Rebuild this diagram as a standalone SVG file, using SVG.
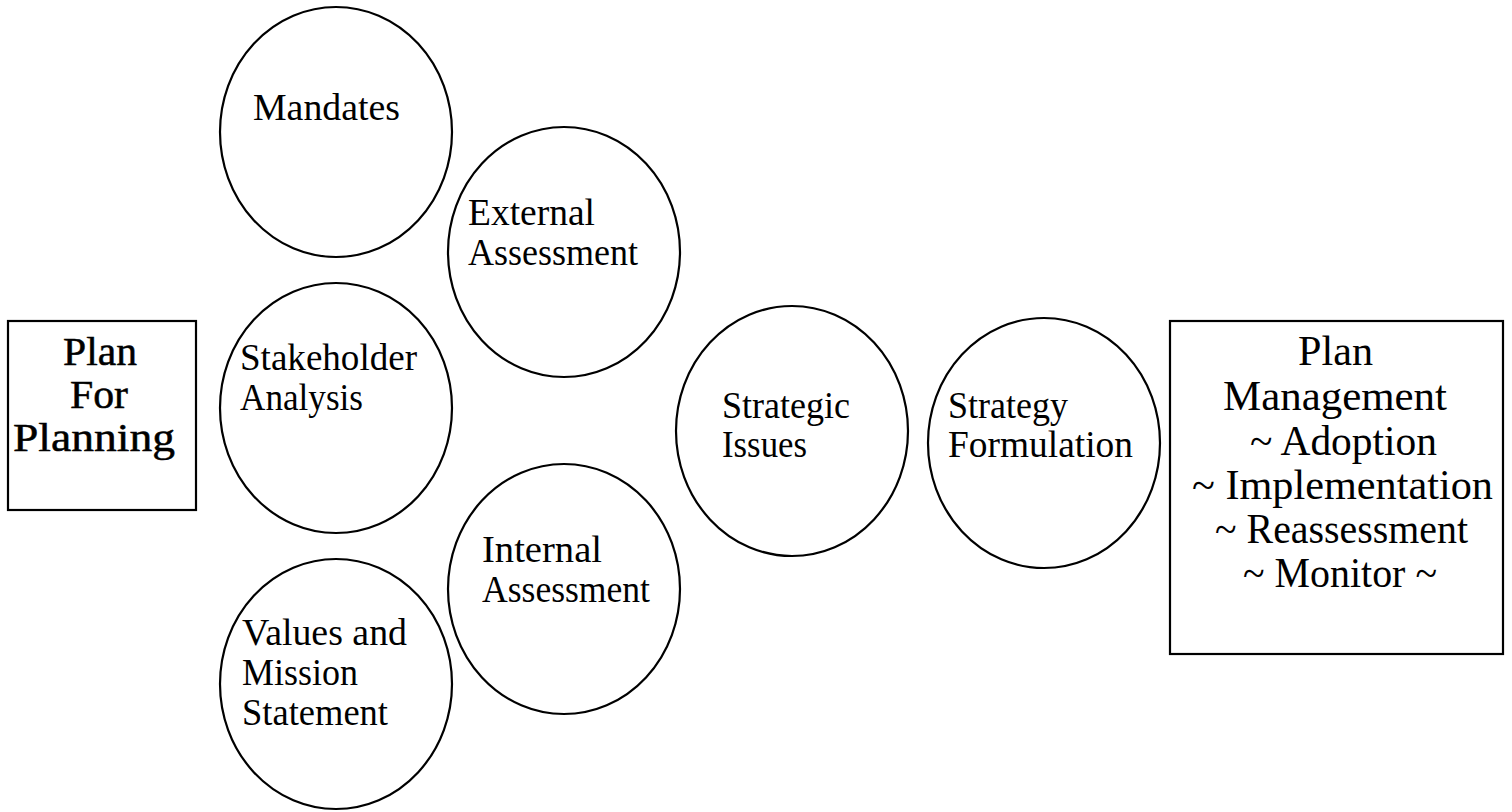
<svg xmlns="http://www.w3.org/2000/svg" width="1512" height="812" viewBox="0 0 1512 812">
<style>
.shape{fill:#fff;stroke:#000;stroke-width:2.2}
.t{font-family:"Liberation Serif",serif;font-size:37px;fill:#000}
.l{font-family:"Liberation Serif",serif;font-size:40px;fill:#000;stroke:#000;stroke-width:0.5}
.r{font-family:"Liberation Serif",serif;font-size:42px;fill:#000}
</style>
<rect width="1512" height="812" fill="#fff"/>
<g id="connectors"></g>
<g id="plan-for-planning">
<rect class="shape" x="8" y="321" width="188" height="189"/>
<text class="l" x="63" y="365" textLength="74" lengthAdjust="spacingAndGlyphs">Plan</text>
<text class="l" x="70" y="408" textLength="58" lengthAdjust="spacingAndGlyphs">For</text>
<text class="l" x="13" y="451" textLength="162" lengthAdjust="spacingAndGlyphs">Planning</text>
</g>
<g id="mandates">
<ellipse class="shape" cx="336" cy="132" rx="116" ry="125"/>
<text class="t" x="253" y="120" textLength="147" lengthAdjust="spacingAndGlyphs">Mandates</text>
</g>
<g id="stakeholder">
<ellipse class="shape" cx="336" cy="408" rx="116" ry="125"/>
<text class="t" x="240" y="370" textLength="177" lengthAdjust="spacingAndGlyphs">Stakeholder</text>
<text class="t" x="240" y="410" textLength="123" lengthAdjust="spacingAndGlyphs">Analysis</text>
</g>
<g id="values">
<ellipse class="shape" cx="336" cy="684" rx="116" ry="125"/>
<text class="t" x="242" y="645" textLength="165" lengthAdjust="spacingAndGlyphs">Values and</text>
<text class="t" x="242" y="685" textLength="116" lengthAdjust="spacingAndGlyphs">Mission</text>
<text class="t" x="242" y="725" textLength="146" lengthAdjust="spacingAndGlyphs">Statement</text>
</g>
<g id="external">
<ellipse class="shape" cx="564" cy="252" rx="116" ry="125"/>
<text class="t" x="468" y="225" textLength="127" lengthAdjust="spacingAndGlyphs">External</text>
<text class="t" x="468" y="265" textLength="170" lengthAdjust="spacingAndGlyphs">Assessment</text>
</g>
<g id="internal">
<ellipse class="shape" cx="564" cy="589" rx="116" ry="125"/>
<text class="t" x="482" y="562" textLength="120" lengthAdjust="spacingAndGlyphs">Internal</text>
<text class="t" x="482" y="602" textLength="168" lengthAdjust="spacingAndGlyphs">Assessment</text>
</g>
<g id="strategic-issues">
<ellipse class="shape" cx="792" cy="431" rx="116" ry="125"/>
<text class="t" x="722" y="418" textLength="128" lengthAdjust="spacingAndGlyphs">Strategic</text>
<text class="t" x="722" y="457" textLength="85" lengthAdjust="spacingAndGlyphs">Issues</text>
</g>
<g id="strategy-formulation">
<ellipse class="shape" cx="1044" cy="443" rx="116" ry="125"/>
<text class="t" x="948" y="418" textLength="120" lengthAdjust="spacingAndGlyphs">Strategy</text>
<text class="t" x="948" y="457" textLength="185" lengthAdjust="spacingAndGlyphs">Formulation</text>
</g>
<g id="plan-management">
<rect class="shape" x="1170" y="321" width="333" height="333"/>
<text class="r" x="1298" y="365" textLength="75" lengthAdjust="spacingAndGlyphs">Plan</text>
<text class="r" x="1223" y="410" textLength="224" lengthAdjust="spacingAndGlyphs">Management</text>
<text class="r" x="1250" y="455" textLength="187" lengthAdjust="spacingAndGlyphs">~ Adoption</text>
<text class="r" x="1192" y="499" textLength="301" lengthAdjust="spacingAndGlyphs">~ Implementation</text>
<text class="r" x="1215" y="543" textLength="253" lengthAdjust="spacingAndGlyphs">~ Reassessment</text>
<text class="r" x="1243" y="587" textLength="194" lengthAdjust="spacingAndGlyphs">~ Monitor ~</text>
</g>
</svg>
